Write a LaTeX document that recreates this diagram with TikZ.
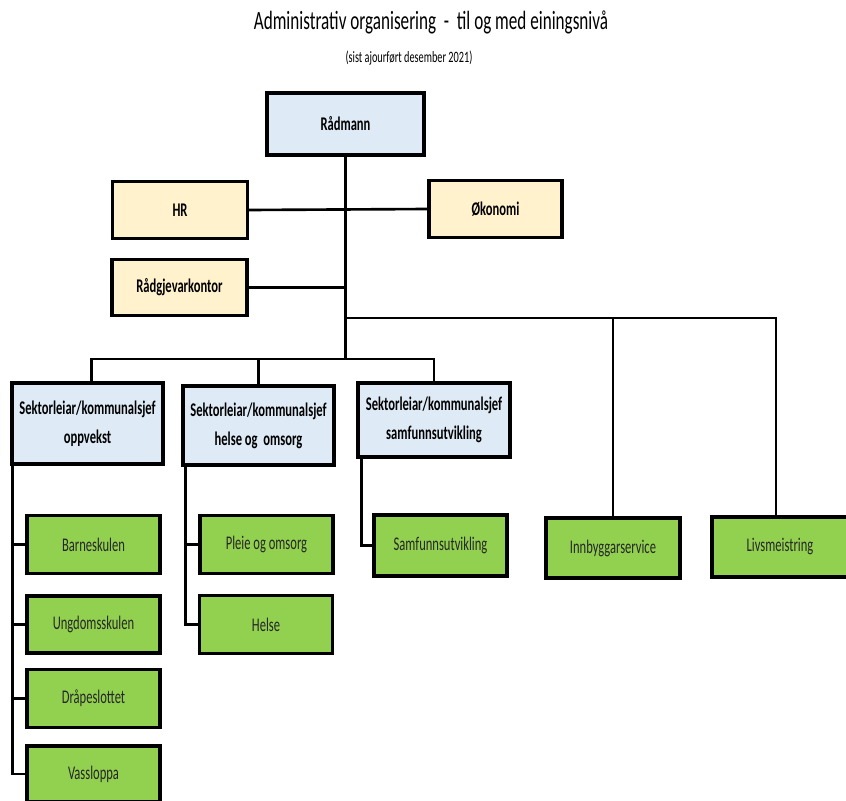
\documentclass[tikz,border=0pt]{standalone}
\usepackage{fontspec}
\setmainfont{Carlito}[FakeStretch=0.65]
\usepackage{tikz}

\definecolor{leiarblue}{HTML}{DEEBF7}
\definecolor{stabgul}{HTML}{FFF2CC}
\definecolor{einggreen}{HTML}{92D050}

\tikzset{
    boks/.style={draw=black,line width=1.8pt,inner sep=1pt},
    leiar/.style={boks,fill=leiarblue,font=\fontsize{11}{16.5}\selectfont\bfseries,align=center},
    stab/.style={boks,fill=stabgul,font=\fontsize{11}{13}\selectfont\bfseries,minimum width=2.7cm,minimum height=1.13cm},
    eining/.style={boks,fill=einggreen,text=black!85,font=\fontsize{11}{13}\selectfont,minimum width=2.66cm,minimum height=1.17cm},
    linje/.style={draw=black,line width=1.5pt}
}

\begin{document}
\begin{tikzpicture}[x=0.02cm,y=-0.02cm]
        \useasboundingbox (0,0) rectangle (846,801);
        \node (tittel) at (431,22) {\fontsize{15}{18}\selectfont Administrativ organisering\ \ -\ \ til og med einingsnivå};
        \node (dato) at (409,58) {\fontsize{9}{11}\selectfont (sist ajourført desember 2021)};

        \node[leiar,minimum width=3.14cm,minimum height=1.24cm] (radmann) at (345.5,124) {Rådmann};
        \node[stab] (hr) at (180,210) {HR};
        \node[stab,minimum width=2.66cm] (okonomi) at (495.5,209) {Økonomi};
        \node[stab] (radgj) at (179.5,287.5) {Rådgjevarkontor};

        \node[leiar,minimum width=3.02cm,minimum height=1.62cm] (oppv) at (87.5,423.5) {Sektorleiar/kommunalsjef\\oppvekst};
        \node[leiar,minimum width=3.02cm,minimum height=1.58cm] (helseoms) at (258.5,425.5) {Sektorleiar/kommunalsjef\\helse og\ \ omsorg};
        \node[leiar,minimum width=3.04cm,minimum height=1.48cm] (samfsek) at (434,420) {Sektorleiar/kommunalsjef\\samfunnsutvikling};

        \node[eining] (barne) at (93.5,544.5) {Barneskulen};
        \node[eining,minimum height=1.14cm] (ungdom) at (93.5,624.5) {Ungdomsskulen};
        \node[eining] (drape) at (93.5,698.5) {Dråpeslottet};
        \node[eining,minimum height=1.12cm] (vass) at (93.5,774) {Vassloppa};
        \node[eining] (pleie) at (266.5,544.5) {Pleie og omsorg};
        \node[eining] (helse) at (266,624.5) {Helse};
        \node[eining,minimum height=1.22cm] (samfu) at (440.5,545.5) {Samfunnsutvikling};
        \node[eining,minimum width=2.68cm,minimum height=1.2cm] (innb) at (613,548) {Innbyggarservice};
        \node[eining,minimum width=2.72cm,minimum height=1.2cm] (livs) at (780,547) {Livsmeistring};

        % lines from the top
        \coordinate (sektorbar) at (radmann.south |- 0,359);
        \coordinate (hogrebar) at (radmann.south |- 0,318);
        \draw[linje] (radmann.south) -- (sektorbar);
        \draw[linje] (hr.east) -- (okonomi.west);
        \draw[linje] (radgj.east) -- (radgj.east -| sektorbar);
        \draw[linje] (hogrebar) -| ([xshift=-0.08cm]livs.north);
        \draw[linje] (innb.north) -- (innb.north |- hogrebar);
        \draw[linje] ([xshift=0.08cm]oppv.north) |- (sektorbar) -| (samfsek.north);
        \draw[linje] (helseoms.north) -- (helseoms.north |- sektorbar);

        % units under each sector
        \coordinate (oppvtopp) at ([xshift=0.04cm]oppv.south west);
        \draw[linje] (oppvtopp) |- (vass.west);
        \foreach \n in {barne,ungdom,drape}
            \draw[linje] (\n.west) -- (\n.west -| oppvtopp);
        \coordinate (helsetopp) at ([xshift=0.08cm]helseoms.south west);
        \draw[linje] (helsetopp) |- (helse.west);
        \draw[linje] (pleie.west) -- (pleie.west -| helsetopp);
        \draw[linje] ([xshift=0.1cm]samfsek.south west) |- (samfu.west);
    \end{tikzpicture}
\end{document}
